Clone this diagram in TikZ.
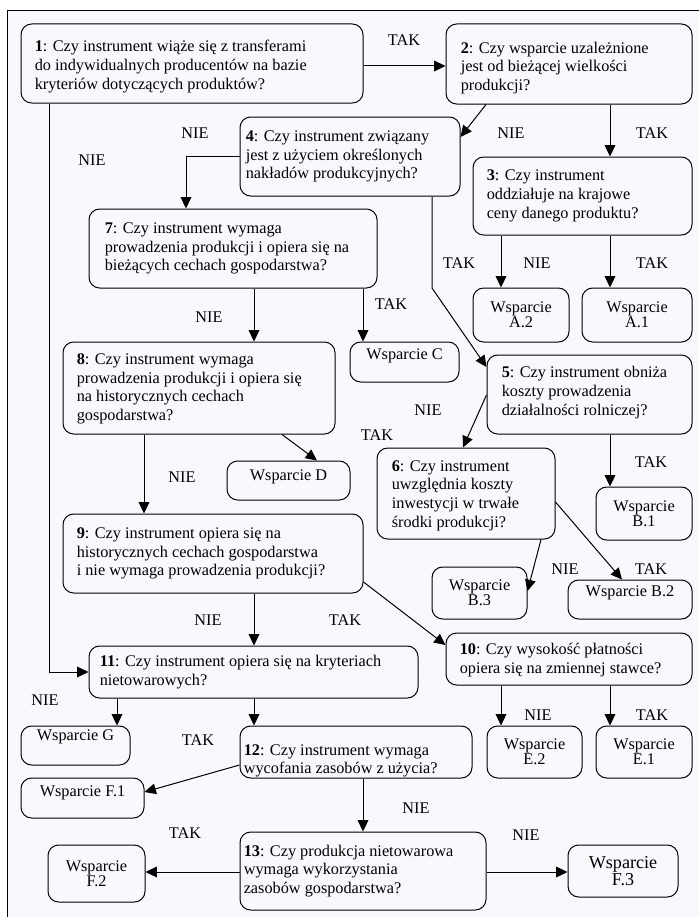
\documentclass[tikz,border=0pt]{standalone}
\usepackage{fontspec}
\setmainfont{Liberation Serif}
\usetikzlibrary{arrows.meta}
\definecolor{bgc}{RGB}{248,249,253}
\newcommand\qf{\fontsize{12.2}{14}\selectfont}
\newcommand\wsf{\fontsize{12.2}{11.2}\selectfont}
\newcommand\wsbig{\fontsize{13.6}{14.2}\selectfont}
% name, x1, y1, x2, y2, text   (pixel coordinates, y downward)
\newcommand\mkbox[6]{%
  \pgfmathsetmacro\bxc{(#2+#4)/2}%
  \pgfmathsetmacro\byc{(#3+#5)/2}%
  \pgfmathsetmacro\bw{(#4-#2)*0.75}%
  \pgfmathsetmacro\bh{(#5-#3)*0.75}%
  \node[bx, minimum width=\bw pt, minimum height=\bh pt] (#1) at (\bxc,\byc) {#6};%
}
% question text: box name, left padding px, downward shift px, text
\newcommand\qtext[4]{%
  \pgfmathsetmacro\pd{#2*0.75}%
  \pgfmathsetmacro\dy{-#3*0.75}%
  \node[qt] (#1t) at ([xshift=\pd pt, yshift=\dy pt]#1.west) {#4};%
}
% single-line label inside box: box name, upward shift px, text
\newcommand\wtext[3]{%
  \pgfmathsetmacro\dy{#2*0.75}%
  \node[lbl] (#1t) at ([yshift=\dy pt]#1.center) {#3};%
}
\tikzset{
  bx/.style={draw, line width=0.75pt, rounded corners=8pt, inner sep=0pt, align=center, font=\wsf},
  qt/.style={anchor=west, align=left, inner sep=0pt, font=\qf},
  lbl/.style={inner sep=0pt, font=\qf},
  arr/.style={line width=0.75pt, -{Triangle[length=8.5pt,width=8pt]}},
}
\begin{document}
\begin{tikzpicture}[x=0.75pt,y=-0.75pt]
\useasboundingbox (0,0) rectangle (699,917);
\fill[white] (0,0) rectangle (699,917);
\draw[fill=bgc, line width=0.75pt] (7,11) rectangle (712,930);

% question boxes
\mkbox{b1}{21}{24}{363}{103}{}
\qtext{b1}{14}{3}{\textbf{1}: Czy instrument wiąże się z transferami\\do indywidualnych producentów na bazie\\kryteriów dotyczących produktów?}
\mkbox{b2}{446}{24}{692}{104}{}
\qtext{b2}{15}{4}{\textbf{2}: Czy wsparcie uzależnione\\jest od bieżącej wielkości\\produkcji?}
\mkbox{b4}{240}{117}{460}{196}{}
\qtext{b4}{6}{0}{\textbf{4}: Czy instrument związany\\jest z użyciem określonych\\nakładów produkcyjnych?}
\mkbox{b3}{473}{157}{692}{235}{}
\qtext{b3}{14}{0}{\textbf{3}: Czy instrument\\oddziałuje na krajowe\\ceny danego produktu?}
\mkbox{b7}{89}{209}{377}{288}{}
\qtext{b7}{16}{0}{\textbf{7}: Czy instrument wymaga\\prowadzenia produkcji i opiera się na\\bieżących cechach gospodarstwa?}
\mkbox{b8}{63}{342}{335}{434}{}
\qtext{b8}{14}{1}{\textbf{8}: Czy instrument wymaga\\prowadzenia produkcji i opiera się\\na historycznych cechach\\gospodarstwa?}
\mkbox{b5}{487}{355}{692}{434}{}
\qtext{b5}{15}{-2}{\textbf{5}: Czy instrument obniża\\koszty prowadzenia\\działalności rolniczej?}
\mkbox{b6}{377}{448}{555}{539}{}
\qtext{b6}{15}{2}{\textbf{6}: Czy instrument\\uwzględnia koszty\\inwestycji w trwałe\\środki produkcji?}
\mkbox{b9}{63}{514}{363}{593}{}
\qtext{b9}{14}{0}{\textbf{9}: Czy instrument opiera się na\\historycznych cechach gospodarstwa\\i nie wymaga prowadzenia produkcji?}
\mkbox{b10}{446}{633}{692}{685}{}
\qtext{b10}{14}{1}{\textbf{10}: Czy wysokość płatności\\opiera się na zmiennej stawce?}
\mkbox{b11}{89}{646}{418}{698}{}
\qtext{b11}{11}{0}{\textbf{11}: Czy instrument opiera się na kryteriach\\nietowarowych?}
\mkbox{b12}{240}{726}{472}{778}{}
\qtext{b12}{4}{9}{\textbf{12}: Czy instrument wymaga\\wycofania zasobów z użycia?}
\mkbox{b13}{240}{832}{486}{910}{}
\qtext{b13}{4}{0}{\textbf{13}: Czy produkcja nietowarowa\\wymaga wykorzystania\\zasobów gospodarstwa?}

% outcome boxes
\mkbox{A2}{473}{288}{569}{342}{Wsparcie\\A.2}
\mkbox{A1}{582}{288}{692}{342}{Wsparcie\\A.1}
\mkbox{C}{350}{342}{459}{382}{}
\wtext{C}{6}{Wsparcie C}
\mkbox{D}{227}{461}{350}{500}{}
\wtext{D}{4}{Wsparcie D}
\mkbox{B1}{596}{487}{692}{540}{Wsparcie\\B.1}
\mkbox{B3}{432}{567}{527}{619}{Wsparcie\\B.3}
\mkbox{B2}{568}{580}{692}{619}{}
\wtext{B2}{7}{Wsparcie B.2}
\mkbox{E2}{487}{726}{582}{778}{Wsparcie\\E.2}
\mkbox{E1}{596}{726}{692}{778}{Wsparcie\\E.1}
\mkbox{G}{21}{726}{130}{765}{}
\wtext{G}{9}{Wsparcie G}
\mkbox{F1}{21}{778}{144}{818}{}
\wtext{F1}{5}{Wsparcie F.1}
\mkbox{F2}{48}{845}{145}{902}{Wsparcie\\F.2}
\mkbox{F3}{568}{845}{678}{897}{\wsbig Wsparcie\\\wsbig F.3}

% connectors
\draw[arr] (b1.east |- 0,66) -- (b2.west |- 0,66);
\draw[arr] (b1.south -| 49,0) |- (b11.west);
\draw[arr] (b2.south -| 486,0) -- (b4.east |- 0,137);
\draw[arr] (b2.south -| 610,0) -- (b3.north -| 610,0);
\draw[arr] (b4.west) -| (b7.north -| 186,0);
\draw[arr] (b4.south -| 432,0) -- (432,288) -- (b5.west |- 0,367);
\draw[arr] (b3.south -| 501,0) -- (A2.north -| 501,0);
\draw[arr] (b3.south -| 610,0) -- (A1.north -| 610,0);
\draw[arr] (b7.south -| 363,0) -- (C.north -| 363,0);
\draw[arr] (b7.south -| 254,0) -- (b8.north -| 254,0);
\draw[arr] (b8.south -| 282,0) -- (D.north -| 317,0);
\draw[arr] (b8.south -| 144,0) -- (b9.north -| 144,0);
\draw[arr] (b5.west |- 0,395) -- (b6.north -| 463,0);
\draw[arr] (b5.south -| 610,0) -- (B1.north -| 610,0);
\draw[arr] (b6.south -| 541,0) -- (B3.east |- 0,591);
\draw[arr] (b6.east |- 0,502) -- (B2.north -| 622,0);
\draw[arr] (b9.east |- 0,582) -- (b10.west |- 0,645);
\draw[arr] (b9.south -| 254,0) -- (b11.north -| 254,0);
\draw[arr] (b10.south -| 501,0) -- (E2.north -| 501,0);
\draw[arr] (b10.south -| 610,0) -- (E1.north -| 610,0);
\draw[arr] (b11.south -| 117,0) -- (G.north -| 117,0);
\draw[arr] (b11.south -| 254,0) -- (b12.north -| 254,0);
\draw[arr] (b12.west |- 0,765) -- (F1.east |- 0,792);
\draw[arr] (b12.south -| 363,0) -- (b13.north -| 363,0);
\draw[arr] (b13.west |- 0,872) -- (F2.east |- 0,872);
\draw[arr] (b13.east |- 0,872) -- (F3.west |- 0,872);

% labels
\node[lbl] (l1) at (404,40) {TAK};
\node[lbl] (l2) at (92,160) {NIE};
\node[lbl] (l3) at (511,133) {NIE};
\node[lbl] (l4) at (652,133) {TAK};
\node[lbl] (l5) at (195,133) {NIE};
\node[lbl] (l6) at (459,263) {TAK};
\node[lbl] (l7) at (537,263) {NIE};
\node[lbl] (l8) at (652,263) {TAK};
\node[lbl] (l9) at (391,304) {TAK};
\node[lbl] (l10) at (209,317) {NIE};
\node[lbl] (l11) at (182,477) {NIE};
\node[lbl] (l12) at (428,410) {NIE};
\node[lbl] (l13) at (377,435) {TAK};
\node[lbl] (l14) at (651,462) {TAK};
\node[lbl] (l15) at (565,569) {NIE};
\node[lbl] (l16) at (651,569) {TAK};
\node[lbl] (l17) at (208,620) {NIE};
\node[lbl] (l18) at (345,620) {TAK};
\node[lbl] (l19) at (538,715) {NIE};
\node[lbl] (l20) at (652,715) {TAK};
\node[lbl] (l21) at (45,700) {NIE};
\node[lbl] (l22) at (198,740) {TAK};
\node[lbl] (l23) at (416,808) {NIE};
\node[lbl] (l24) at (185,833) {TAK};
\node[lbl] (l25) at (526,835) {NIE};
\end{tikzpicture}
\end{document}
